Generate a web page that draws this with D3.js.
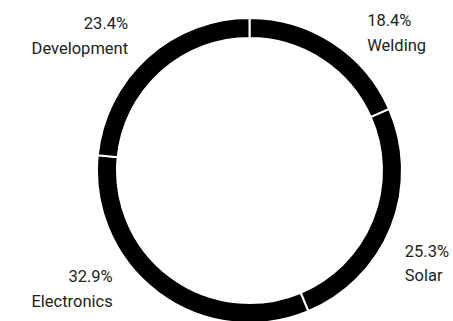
<!DOCTYPE html>
<html>
<head>
<meta charset="utf-8">
<script src="https://cdn.jsdelivr.net/npm/d3@7"></script>
<style>
  html, body { margin: 0; padding: 0; background: #ffffff; }
  svg { display: block; }
</style>
</head>
<body>
<div class="donut"></div>
<script>
// Chart values (clockwise from the top).
const categories = ["Welding", "Solar", "Electronics", "Development"];
const shares = [18.4, 25.3, 32.9, 23.4];
const percentLabels = ["18.4%", "25.3%", "32.9%", "23.4%"];

// Size of the graph.
const width = 453;
const height = 321;
const cx = 249.5;
const cy = 170.5;
const outerR = 152.5;
const innerR = 132.5;
const labelR = 181;
const edge = 4;

const data = categories.map((c, i) => ({ name: c, value: shares[i], pct: percentLabels[i] }));

const pie = d3.pie()
  .sort(null)
  .value(d => d.value);

const arc = d3.arc()
  .innerRadius(innerR)
  .outerRadius(outerR);

const svg = d3.select(".donut")
  .append("svg")
  .attr("width", width)
  .attr("height", height);

const g = svg.append("g")
  .attr("transform", `translate(${cx},${cy})`);

const arcs = pie(data);

// Black slices with a thin white separator.
g.selectAll("path")
  .data(arcs)
  .enter()
  .append("path")
  .attr("d", arc)
  .attr("fill", "#000000")
  .attr("stroke", "#ffffff")
  .attr("stroke-width", 2);

/*
  Labels sit on a circle around the ring at the mid angle of each slice,
  kept inside the picture: first clamp vertically, then horizontally
  (and slide back onto the circle when pushed sideways).
*/
const minY = 33 - cy;
const maxY = 289 - cy;
g.selectAll(".label")
  .data(arcs)
  .enter()
  .append("text")
  .attr("class", "label")
  .style("font-family", "Roboto, sans-serif")
  .style("font-size", "16.5px")
  .attr("fill", "#222222")
  .each(function(d) {
    const a = (d.startAngle + d.endAngle) / 2;
    const side = Math.sin(a) >= 0 ? 1 : -1;
    const down = Math.cos(a) < 0 ? 1 : -1;
    const t = d3.select(this)
      .attr("text-anchor", side > 0 ? "start" : "end");
    const p1 = t.append("tspan").text(d.data.pct);
    const p2 = t.append("tspan").text(d.data.name);
    const w = Math.max(p1.node().getComputedTextLength(), p2.node().getComputedTextLength());
    let y = -labelR * Math.cos(a);
    y = Math.max(minY, Math.min(maxY, y));
    let x = side * Math.sqrt(labelR * labelR - y * y);
    const maxX = width - cx - edge - w;
    const minX = -cx + edge + w;
    if (x > maxX || x < minX) {
      x = Math.max(minX, Math.min(maxX, x));
      y = down * Math.sqrt(Math.max(0, labelR * labelR - x * x));
      y = Math.max(minY, Math.min(maxY, y));
    }
    p1.attr("x", x).attr("y", y - 7);
    p2.attr("x", x).attr("y", y + 17.5);
  });
</script>
</body>
</html>
